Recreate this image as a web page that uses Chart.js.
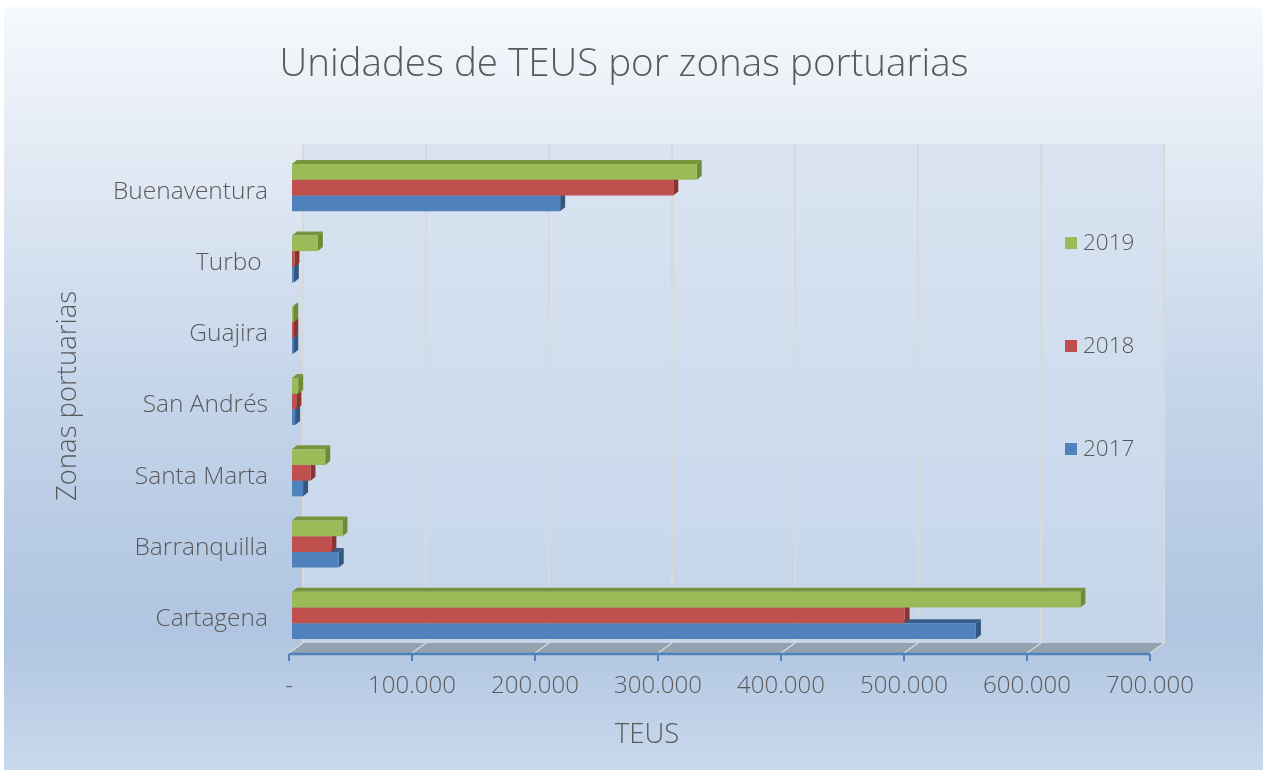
<!DOCTYPE html>
<html>
<head>
<meta charset="utf-8">
<script src="https://cdn.jsdelivr.net/npm/chart.js@4.4.1/dist/chart.umd.min.js"></script>
<style>
  html, body { margin: 0; padding: 0; background: #ffffff; }
  #wrap { width: 1263px; height: 770px; position: relative; }
</style>
</head>
<body>
<div id="wrap"><canvas id="c" width="1263" height="770"></canvas></div>
<script>
const chartTitle = 'Unidades de TEUS por zonas portuarias';
const xTitle = 'TEUS';
const yTitle = 'Zonas portuarias';
const categories = ['Buenaventura', 'Turbo ', 'Guajira', 'San Andrés', 'Santa Marta', 'Barranquilla', 'Cartagena'];
const seriesNames = ['2019', '2018', '2017'];
const values2019 = [329000, 21000, 1000, 5000, 27000, 41000, 641000];
const values2018 = [310000, 2000, 1000, 3500, 15000, 32000, 498000];
const values2017 = [218000, 1500, 1000, 2500, 9000, 38000, 556000];
const xTicks = [0, 100000, 200000, 300000, 400000, 500000, 600000, 700000];
const xTickLabels = ['-', '100.000', '200.000', '300.000', '400.000', '500.000', '600.000', '700.000'];

const FONT = "'Open Sans', 'Noto Sans', sans-serif";
const TEXT = '#595959';
const frontColors = ['#9bbb59', '#c0504d', '#4f81bd'];
const topColors = ['#77933c', '#953735', '#385d8a'];
const sideColors = ['#6f8a37', '#8a3331', '#34577f'];

const D3X = 5, D3Y = 4;       // bar depth offset
const WALLX = 11;             // back wall offset from bar zero plane

const deco = {
  id: 'deco',
  beforeDraw(chart) {
    const ctx = chart.ctx;
    const W = chart.width, H = chart.height;
    const ca = chart.chartArea;
    const xs = chart.scales.x;
    ctx.save();
    // panel background
    const g = ctx.createLinearGradient(0, 7, 0, H);
    g.addColorStop(0, '#f6f9fd');
    g.addColorStop(0.18, '#e4ebf5');
    g.addColorStop(0.5, '#c5d5ea');
    g.addColorStop(0.82, '#b0c5e1');
    g.addColorStop(1, '#c9d9ed');
    ctx.fillStyle = g;
    ctx.fillRect(4, 7, W - 4, H - 7);

    const wallTop = ca.top - 8;
    const wallBottom = ca.bottom - 8;
    const x0 = xs.getPixelForValue(xTicks[0]);
    const x1 = xs.getPixelForValue(xTicks[xTicks.length - 1]);
    // back wall
    const wg = ctx.createLinearGradient(0, wallTop, 0, wallBottom);
    wg.addColorStop(0, '#dae4f1');
    wg.addColorStop(1, '#c4d5ea');
    ctx.fillStyle = wg;
    ctx.fillRect(x0 + WALLX, wallTop, x1 - x0, wallBottom - wallTop);
    // grid lines on the wall
    ctx.strokeStyle = '#d9d9d9';
    ctx.lineWidth = 2;
    xTicks.forEach(v => {
      const px = Math.round(xs.getPixelForValue(v) + WALLX);
      ctx.beginPath();
      ctx.moveTo(px, wallTop);
      ctx.lineTo(px, wallBottom);
      ctx.stroke();
    });
    // floor
    const fy0 = wallBottom, fy1 = ca.bottom + 2;
    ctx.fillStyle = '#93a1b1';
    ctx.beginPath();
    ctx.moveTo(x0 + WALLX, fy0);
    ctx.lineTo(x1 + WALLX, fy0);
    ctx.lineTo(x1 - 3, fy1);
    ctx.lineTo(x0 - 3, fy1);
    ctx.closePath();
    ctx.fill();
    ctx.strokeStyle = '#d9d9d9';
    ctx.lineWidth = 1.5;
    xTicks.forEach(v => {
      const px = xs.getPixelForValue(v);
      ctx.beginPath();
      ctx.moveTo(px + WALLX, fy0);
      ctx.lineTo(px - 3, fy1);
      ctx.stroke();
    });
    // front axis
    ctx.strokeStyle = '#4f81bd';
    ctx.lineWidth = 2.5;
    ctx.beginPath();
    ctx.moveTo(x0 - 3, ca.bottom + 3);
    ctx.lineTo(x1 - 3, ca.bottom + 3);
    ctx.stroke();
    ctx.lineWidth = 2;
    xTicks.forEach(v => {
      const px = Math.round(xs.getPixelForValue(v) - 3);
      ctx.beginPath();
      ctx.moveTo(px, ca.bottom + 3);
      ctx.lineTo(px, ca.bottom + 10);
      ctx.stroke();
    });
    ctx.restore();
  },
  beforeDatasetDraw(chart, args) {
    const ctx = chart.ctx;
    const i = args.index;
    const meta = args.meta;
    ctx.save();
    meta.data.forEach(bar => {
      const p = bar.getProps(['x', 'y', 'base', 'height'], true);
      const xl = p.base, xr = p.x;
      const yt = p.y - p.height / 2, yb = p.y + p.height / 2;
      // top face
      ctx.fillStyle = topColors[i];
      ctx.beginPath();
      ctx.moveTo(xl, yt);
      ctx.lineTo(xr, yt);
      ctx.lineTo(xr + D3X, yt - D3Y);
      ctx.lineTo(xl + D3X, yt - D3Y);
      ctx.closePath();
      ctx.fill();
      // right face
      ctx.fillStyle = sideColors[i];
      ctx.beginPath();
      ctx.moveTo(xr, yt);
      ctx.lineTo(xr + D3X, yt - D3Y);
      ctx.lineTo(xr + D3X, yb - D3Y);
      ctx.lineTo(xr, yb);
      ctx.closePath();
      ctx.fill();
    });
    ctx.restore();
  },
  afterDraw(chart) {
    const ctx = chart.ctx;
    ctx.save();
    ctx.fillStyle = TEXT;
    ctx.textAlign = 'center';
    ctx.textBaseline = 'middle';
    // chart title
    ctx.font = `300 38.5px ${FONT}`;
    ctx.fillText(chartTitle, 624, 65);
    // x title
    ctx.font = `300 27.5px ${FONT}`;
    ctx.fillText(xTitle, 647, 735);
    // y title
    ctx.save();
    ctx.translate(68, 396);
    ctx.rotate(-Math.PI / 2);
    ctx.fillText(yTitle, 0, 0);
    ctx.restore();
    // legend
    const legendY = [243, 346, 449];
    ctx.textAlign = 'left';
    ctx.font = `300 22.5px ${FONT}`;
    chart.data.datasets.forEach((ds, k) => {
      ctx.fillStyle = ds.backgroundColor;
      ctx.fillRect(1065, legendY[k] - 6, 12, 12);
      ctx.fillStyle = TEXT;
      ctx.fillText(ds.label, 1083, legendY[k] + 1);
    });
    ctx.restore();
  }
};

new Chart(document.getElementById('c'), {
  type: 'bar',
  data: {
    labels: categories,
    datasets: [
      { label: seriesNames[0], data: values2019, backgroundColor: frontColors[0] },
      { label: seriesNames[1], data: values2018, backgroundColor: frontColors[1] },
      { label: seriesNames[2], data: values2017, backgroundColor: frontColors[2] }
    ]
  },
  options: {
    indexAxis: 'y',
    responsive: false,
    animation: false,
    devicePixelRatio: 1,
    layout: { padding: { left: 0, right: 110, top: 152, bottom: 0 } },
    datasets: { bar: { categoryPercentage: 0.66, barPercentage: 1.0, borderWidth: 0 } },
    plugins: {
      legend: { display: false },
      title: { display: false },
      tooltip: { enabled: false }
    },
    scales: {
      x: {
        type: 'linear',
        min: 0,
        max: 700000,
        afterBuildTicks(scale) { scale.ticks = xTicks.map(v => ({ value: v })); },
        afterFit(scale) { scale.height = 119; },
        grid: { display: false, drawTicks: false },
        border: { display: false },
        ticks: {
          padding: 21,
          labelOffset: -3,
          color: TEXT,
          font: { family: FONT, size: 24, weight: 300 },
          callback(value) { const k = xTicks.indexOf(value); return k >= 0 ? xTickLabels[k] : ''; }
        }
      },
      y: {
        afterFit(scale) { scale.width = 292; },
        grid: { display: false, drawTicks: false },
        border: { display: false },
        ticks: {
          padding: 24,
          labelOffset: 4,
          color: TEXT,
          font: { family: FONT, size: 24.5, weight: 300 }
        }
      }
    }
  },
  plugins: [deco]
});
</script>
</body>
</html>
